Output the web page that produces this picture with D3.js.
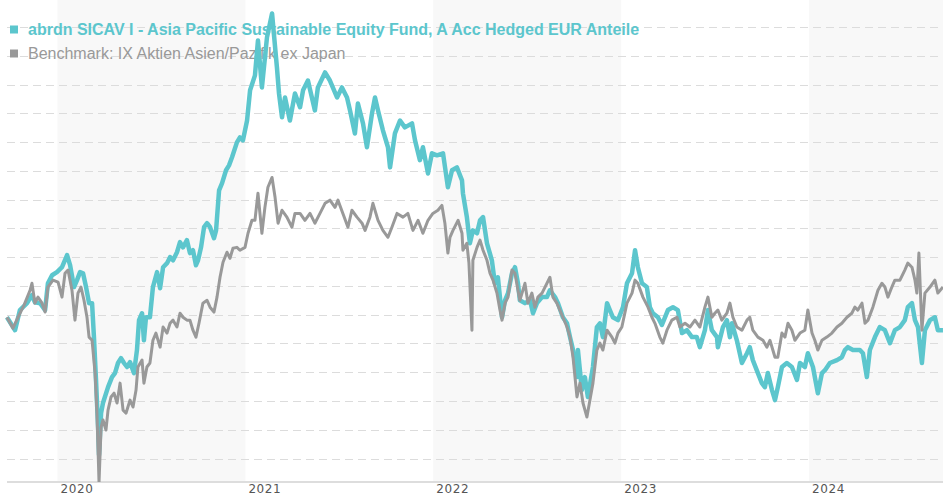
<!DOCTYPE html>
<html>
<head>
<meta charset="utf-8">
<script src="https://cdn.jsdelivr.net/npm/d3@7"></script>
<style>
    body { margin: 0; background: #fff; }
    .legend-text { font-family: 'Liberation Sans', Arial, sans-serif; font-size: 16px; }
    .year-label { font-family: 'DejaVu Sans', Verdana, sans-serif; font-size: 12px; fill: #555; letter-spacing: 0.6px; }
</style>
</head>
<body>
<div id="chartDiv"></div>
<script>
// legend labels
const fundName = 'abrdn SICAV I - Asia Pacific Sustainable Equity Fund, A Acc Hedged EUR Anteile';
const benchName = 'Benchmark: IX Aktien Asien/Pazifik ex Japan';

// x ticks (years), shaded every other year
const yearTicks = [2020, 2021, 2022, 2023, 2024];
const shadedYears = [2020, 2022, 2024];

// gridline values, performance in %
const gridValues = [-50, -40, -30, -20, -10, 0, 10, 20, 30, 40, 50, 60, 70, 80, 90, 100];

// [decimal year, performance %]
const fundSeries = [
    [2019.731, -0.9], [2019.774, -5.4], [2019.800, 1.6], [2019.838, 4.0], [2019.864, 6.8],
    [2019.880, 4.3], [2019.907, 4.0], [2019.934, 1.6], [2019.949, 10.9], [2019.971, 13.7],
    [2019.997, 14.8], [2020.024, 16.5], [2020.051, 20.7], [2020.067, 17.2], [2020.088, 9.6],
    [2020.104, 12.0], [2020.120, 14.8], [2020.136, 14.4], [2020.152, 9.6], [2020.168, 4.0],
    [2020.184, 4.0], [2020.194, -7.8], [2020.205, -22.7], [2020.216, -39.1], [2020.221, -48.8],
    [2020.232, -34.2], [2020.242, -30.7], [2020.269, -25.2], [2020.290, -21.7], [2020.306, -20.3],
    [2020.322, -16.8], [2020.338, -15.1], [2020.354, -16.8], [2020.370, -18.2], [2020.386, -16.5],
    [2020.407, -20.3], [2020.423, -12.3], [2020.434, -1.9], [2020.450, 0.5], [2020.460, -8.9],
    [2020.471, -0.9], [2020.492, -0.9], [2020.508, 9.6], [2020.530, 14.8], [2020.546, 9.2],
    [2020.562, 16.5], [2020.583, 17.9], [2020.599, 20.0], [2020.615, 18.9], [2020.636, 21.7],
    [2020.652, 25.2], [2020.668, 23.4], [2020.689, 25.9], [2020.705, 21.4], [2020.721, 22.4],
    [2020.737, 17.2], [2020.748, 18.9], [2020.764, 23.4], [2020.780, 30.4], [2020.796, 31.8],
    [2020.812, 30.4], [2020.833, 26.6], [2020.844, 29.3], [2020.860, 43.2], [2020.876, 45.7],
    [2020.897, 50.2], [2020.913, 51.9], [2020.929, 54.7], [2020.955, 59.9], [2020.971, 61.6],
    [2020.987, 60.6], [2021.009, 67.5], [2021.025, 78.0], [2021.051, 83.2], [2021.067, 95.3],
    [2021.088, 79.0], [2021.115, 96.4], [2021.142, 104.7], [2021.168, 85.9], [2021.179, 76.9],
    [2021.195, 68.6], [2021.211, 75.5], [2021.237, 67.5], [2021.264, 76.9], [2021.291, 72.1],
    [2021.307, 78.0], [2021.333, 81.4], [2021.354, 75.5], [2021.370, 71.0], [2021.386, 79.0],
    [2021.424, 84.2], [2021.450, 81.4], [2021.488, 75.5], [2021.514, 79.0], [2021.541, 75.5],
    [2021.557, 71.0], [2021.583, 63.0], [2021.599, 73.4], [2021.626, 66.5], [2021.647, 58.2],
    [2021.674, 70.0], [2021.690, 75.5], [2021.706, 71.0], [2021.732, 64.1], [2021.759, 58.2],
    [2021.770, 51.2], [2021.796, 63.0], [2021.823, 67.5], [2021.849, 65.1], [2021.887, 66.5],
    [2021.903, 60.6], [2021.929, 53.7], [2021.945, 58.2], [2021.972, 49.1], [2021.993, 56.1],
    [2022.020, 55.4], [2022.052, 56.1], [2022.078, 44.3], [2022.100, 50.2], [2022.126, 51.2],
    [2022.153, 46.7], [2022.158, 42.2], [2022.179, 33.9], [2022.195, 24.8], [2022.211, 29.3],
    [2022.233, 28.3], [2022.249, 32.8], [2022.265, 33.9], [2022.286, 24.8], [2022.312, 18.9],
    [2022.328, 10.9], [2022.344, 13.0], [2022.366, -0.9], [2022.382, 5.0], [2022.398, 7.5],
    [2022.419, 14.4], [2022.435, 16.5], [2022.451, 10.9], [2022.461, 5.0], [2022.488, 4.0],
    [2022.515, 5.0], [2022.531, 0.5], [2022.552, 4.0], [2022.579, 6.1], [2022.605, 6.1],
    [2022.621, 8.5], [2022.648, 6.1], [2022.664, 4.0], [2022.690, -0.9], [2022.712, -3.0],
    [2022.728, -7.8], [2022.744, -12.3], [2022.765, -21.7], [2022.770, -12.3], [2022.791, -26.2],
    [2022.807, -21.7], [2022.823, -28.6], [2022.850, -18.2], [2022.871, -4.3], [2022.887, -3.0],
    [2022.903, -7.8], [2022.925, 4.0], [2022.940, 1.6], [2022.956, -0.9], [2022.983, -1.9],
    [2023.010, 2.6], [2023.031, 10.9], [2023.058, 14.4], [2023.074, 22.4], [2023.089, 16.5],
    [2023.111, 10.9], [2023.137, 9.6], [2023.153, 2.6], [2023.169, 0.5], [2023.196, -0.9],
    [2023.217, -3.6], [2023.249, 1.6], [2023.276, 2.6], [2023.302, 1.6], [2023.324, -6.4],
    [2023.350, -5.4], [2023.377, -7.8], [2023.403, -7.8], [2023.419, -11.3], [2023.446, -5.4],
    [2023.462, 1.6], [2023.483, -5.4], [2023.510, -7.8], [2023.515, -11.3], [2023.542, -4.3],
    [2023.563, -1.9], [2023.579, -7.8], [2023.590, -3.0], [2023.616, -8.9], [2023.643, -16.8],
    [2023.670, -13.4], [2023.685, -11.3], [2023.701, -15.8], [2023.728, -20.3], [2023.749, -23.8],
    [2023.765, -25.2], [2023.781, -20.3], [2023.803, -26.2], [2023.819, -29.7], [2023.834, -25.2],
    [2023.856, -18.2], [2023.882, -16.8], [2023.909, -18.2], [2023.936, -22.7], [2023.952, -16.8],
    [2023.978, -18.2], [2023.994, -13.4], [2024.021, -18.2], [2024.047, -27.3], [2024.069, -20.3],
    [2024.085, -19.3], [2024.111, -16.8], [2024.149, -15.8], [2024.175, -14.8], [2024.191, -12.3],
    [2024.207, -11.3], [2024.234, -12.3], [2024.271, -12.3], [2024.287, -13.4], [2024.308, -21.7],
    [2024.324, -12.3], [2024.351, -7.8], [2024.377, -4.3], [2024.404, -5.4], [2024.431, -9.9],
    [2024.457, -5.4], [2024.484, -4.3], [2024.510, -1.9], [2024.526, 2.6], [2024.548, 4.0],
    [2024.564, -1.9], [2024.580, -4.3], [2024.601, -16.8], [2024.617, -5.4], [2024.644, -1.9],
    [2024.670, -0.9], [2024.686, -5.4], [2024.713, -5.4]
];

const benchSeries = [
    [2019.731, -0.9], [2019.763, -4.7], [2019.790, -0.9], [2019.822, 3.3], [2019.854, 8.5],
    [2019.864, 10.9], [2019.880, 4.0], [2019.896, 6.1], [2019.918, 4.0], [2019.934, 0.9],
    [2019.949, 9.6], [2019.976, 12.0], [2020.003, 11.3], [2020.024, 6.1], [2020.040, 14.4],
    [2020.056, 15.5], [2020.077, 8.5], [2020.093, -1.9], [2020.109, 7.5], [2020.125, 9.6],
    [2020.141, 5.0], [2020.157, -0.9], [2020.168, -7.8], [2020.184, -8.9], [2020.200, -20.3],
    [2020.210, -34.2], [2020.221, -58.2], [2020.232, -39.1], [2020.242, -36.6], [2020.258, -40.1],
    [2020.269, -33.2], [2020.285, -28.6], [2020.301, -27.3], [2020.317, -30.7], [2020.333, -23.8],
    [2020.349, -33.2], [2020.365, -34.2], [2020.386, -29.7], [2020.402, -32.1], [2020.418, -26.2],
    [2020.428, -18.2], [2020.450, -15.8], [2020.460, -23.8], [2020.476, -18.2], [2020.492, -16.8],
    [2020.508, -8.9], [2020.524, -6.4], [2020.546, -11.3], [2020.562, -4.3], [2020.583, -6.4],
    [2020.599, -3.0], [2020.615, -1.9], [2020.636, -4.3], [2020.652, 0.5], [2020.668, -0.9],
    [2020.689, -1.9], [2020.705, -1.9], [2020.721, -5.4], [2020.737, -7.8], [2020.753, -3.0],
    [2020.774, 4.0], [2020.796, 5.0], [2020.812, 2.6], [2020.833, 0.9], [2020.849, 6.1],
    [2020.865, 13.0], [2020.881, 18.2], [2020.902, 21.7], [2020.918, 19.6], [2020.934, 23.1],
    [2020.955, 23.4], [2020.971, 22.4], [2020.998, 23.4], [2021.014, 28.3], [2021.035, 32.8],
    [2021.051, 32.8], [2021.067, 42.2], [2021.088, 28.3], [2021.104, 37.3], [2021.120, 44.3],
    [2021.142, 47.7], [2021.158, 40.8], [2021.174, 31.8], [2021.195, 36.3], [2021.221, 33.9],
    [2021.248, 30.4], [2021.264, 35.2], [2021.291, 35.2], [2021.317, 32.8], [2021.344, 35.2],
    [2021.370, 31.8], [2021.397, 35.2], [2021.424, 38.7], [2021.450, 39.8], [2021.477, 37.3],
    [2021.493, 39.8], [2021.519, 35.2], [2021.546, 30.4], [2021.567, 36.3], [2021.594, 33.9],
    [2021.621, 31.8], [2021.637, 29.3], [2021.663, 33.9], [2021.679, 38.7], [2021.706, 32.8],
    [2021.732, 29.3], [2021.759, 26.9], [2021.780, 30.4], [2021.807, 35.2], [2021.839, 33.9],
    [2021.865, 35.2], [2021.892, 29.3], [2021.919, 32.8], [2021.945, 28.3], [2021.972, 32.8],
    [2021.998, 35.2], [2022.025, 36.3], [2022.046, 38.0], [2022.062, 31.8], [2022.078, 21.4],
    [2022.089, 26.9], [2022.105, 29.3], [2022.132, 32.8], [2022.153, 28.3], [2022.158, 22.4],
    [2022.179, 24.8], [2022.190, 17.9], [2022.206, -5.4], [2022.211, 18.9], [2022.233, 23.4],
    [2022.249, 25.9], [2022.265, 22.4], [2022.286, 18.9], [2022.302, 14.4], [2022.318, 12.0],
    [2022.339, 7.5], [2022.355, 1.6], [2022.366, -1.9], [2022.382, 4.0], [2022.398, 6.1],
    [2022.419, 15.5], [2022.435, 14.4], [2022.451, 8.5], [2022.461, 5.0], [2022.488, 10.9],
    [2022.504, 4.0], [2022.525, 7.5], [2022.541, 2.6], [2022.557, 6.1], [2022.579, 7.5],
    [2022.595, 9.6], [2022.621, 13.0], [2022.637, 6.1], [2022.658, 4.0], [2022.674, 1.6],
    [2022.690, -0.9], [2022.712, -4.3], [2022.728, -7.8], [2022.744, -14.8], [2022.765, -28.6],
    [2022.781, -23.8], [2022.797, -30.7], [2022.818, -35.6], [2022.834, -29.7], [2022.850, -23.8],
    [2022.871, -12.3], [2022.887, -9.9], [2022.903, -12.3], [2022.925, -5.4], [2022.951, -7.8],
    [2022.967, -9.9], [2022.983, -6.4], [2023.004, -4.3], [2023.031, 4.0], [2023.058, 7.5],
    [2023.074, 12.0], [2023.089, 10.9], [2023.116, 6.1], [2023.143, 2.6], [2023.164, -0.9],
    [2023.180, -3.0], [2023.206, -7.8], [2023.222, -9.9], [2023.244, -5.4], [2023.270, -1.9],
    [2023.297, -0.9], [2023.313, -4.3], [2023.340, -3.0], [2023.366, -4.3], [2023.393, -1.9],
    [2023.419, -4.3], [2023.446, 2.6], [2023.462, 6.1], [2023.483, -0.9], [2023.499, 0.5],
    [2023.515, 1.6], [2023.536, -1.9], [2023.563, 0.5], [2023.579, 4.0], [2023.595, -0.9],
    [2023.616, -4.3], [2023.643, -5.4], [2023.670, -1.9], [2023.685, -0.9], [2023.701, -5.4],
    [2023.728, -7.8], [2023.755, -8.9], [2023.776, -11.3], [2023.792, -8.9], [2023.819, -14.8],
    [2023.834, -14.8], [2023.856, -6.4], [2023.872, -7.8], [2023.888, -3.0], [2023.909, -5.4],
    [2023.925, -8.9], [2023.952, -6.4], [2023.978, -5.4], [2023.994, 1.6], [2024.016, -6.4],
    [2024.031, -8.9], [2024.047, -12.3], [2024.069, -8.9], [2024.095, -7.8], [2024.122, -6.4],
    [2024.149, -4.3], [2024.175, -3.0], [2024.202, -0.9], [2024.228, 0.5], [2024.244, 2.6],
    [2024.260, 1.6], [2024.282, 4.0], [2024.298, -3.0], [2024.314, -1.9], [2024.340, 2.6],
    [2024.367, 8.5], [2024.388, 10.9], [2024.404, 9.6], [2024.420, 6.1], [2024.441, 9.6],
    [2024.457, 12.0], [2024.484, 12.0], [2024.510, 15.5], [2024.526, 17.9], [2024.548, 16.5],
    [2024.564, 12.0], [2024.574, 7.5], [2024.585, 21.4], [2024.601, -5.4], [2024.617, 7.5],
    [2024.644, 9.6], [2024.670, 12.0], [2024.686, 7.5], [2024.713, 9.6]
];

/**
 * Performance line chart, fund vs benchmark
 */
class PerformanceChart {
    constructor() {
        this.width = 943;
        this.height = 500;
        this.left = 7;
        this.axisY = 482;
        this.fundColor = '#5cc6cd';
        this.benchColor = '#999999';

        this.drawPlot();
    }

    drawPlot() {
        let that = this;
        this.svg = d3.select('#chartDiv')
            .append('svg')
            .attr('width', this.width)
            .attr('height', this.height);

        this.xScale = d3.scaleLinear()
            .domain([2020, 2024])
            .range([57.5, 809]);
        this.yScale = d3.scaleLinear()
            .domain([-50, 100])
            .range([458.5, 27]);

        //alternating year bands
        this.svg.append('g')
            .selectAll('rect')
            .data(shadedYears)
            .enter().append('rect')
            .attr('x', d => that.xScale(d))
            .attr('y', 0)
            .attr('width', d => Math.min(that.xScale(d + 1), that.width) - that.xScale(d))
            .attr('height', this.axisY)
            .attr('fill', '#f8f8f8');

        //dashed gridlines
        this.svg.append('g')
            .selectAll('line')
            .data(gridValues)
            .enter().append('line')
            .attr('x1', this.left)
            .attr('x2', this.width)
            .attr('y1', d => Math.round(that.yScale(d)) + 0.5)
            .attr('y2', d => Math.round(that.yScale(d)) + 0.5)
            .attr('stroke', '#dcdcdc')
            .attr('stroke-width', 1)
            .attr('stroke-dasharray', '8,5');

        //x axis
        let xAxis = d3.axisBottom(this.xScale)
            .tickValues(yearTicks)
            .tickSize(0)
            .tickFormat(d3.format('d'));
        let axisGroup = this.svg.append('g')
            .attr('transform', `translate(0, ${this.axisY})`)
            .call(xAxis);
        axisGroup.select('.domain').remove();
        axisGroup.append('line')
            .attr('x1', this.left)
            .attr('x2', this.width)
            .attr('stroke', '#dddddd')
            .attr('stroke-width', 2);
        axisGroup.selectAll('.tick text')
            .attr('class', 'year-label')
            .attr('text-anchor', 'start')
            .attr('x', 2.5)
            .attr('y', 11)
            .attr('dy', 0)
            .attr('fill', null)
            .attr('font-family', null)
            .attr('font-size', null);

        //legend
        let legend = [
            { name: fundName, color: this.fundColor, weight: 'bold' },
            { name: benchName, color: this.benchColor, weight: 'normal' }
        ];
        let legendGroups = this.svg.append('g')
            .selectAll('g')
            .data(legend)
            .enter().append('g')
            .attr('transform', (d, i) => `translate(10, ${35 + i * 24})`);
        legendGroups.append('rect')
            .attr('x', 0)
            .attr('y', -9.5)
            .attr('width', 8)
            .attr('height', 8)
            .attr('fill', d => d.color);
        legendGroups.append('text')
            .classed('legend-text', true)
            .attr('x', 18)
            .attr('fill', d => d.color)
            .attr('font-weight', d => d.weight)
            .text(d => d.name);

        //lines
        this.svg.append('clipPath')
            .attr('id', 'plot-clip')
            .append('rect')
            .attr('x', 0).attr('y', 0)
            .attr('width', this.width).attr('height', this.axisY);

        let lineFn = d3.line()
            .x(d => that.xScale(d[0]))
            .y(d => that.yScale(d[1]));

        let lineGroup = this.svg.append('g')
            .attr('clip-path', 'url(#plot-clip)');
        lineGroup.append('path')
            .attr('d', lineFn(fundSeries))
            .attr('fill', 'none')
            .attr('stroke', this.fundColor)
            .attr('stroke-width', 4.5)
            .attr('stroke-linejoin', 'round');
        lineGroup.append('path')
            .attr('d', lineFn(benchSeries))
            .attr('fill', 'none')
            .attr('stroke', this.benchColor)
            .attr('stroke-width', 3)
            .attr('stroke-linejoin', 'round');
    }
}

new PerformanceChart();
</script>
</body>
</html>
